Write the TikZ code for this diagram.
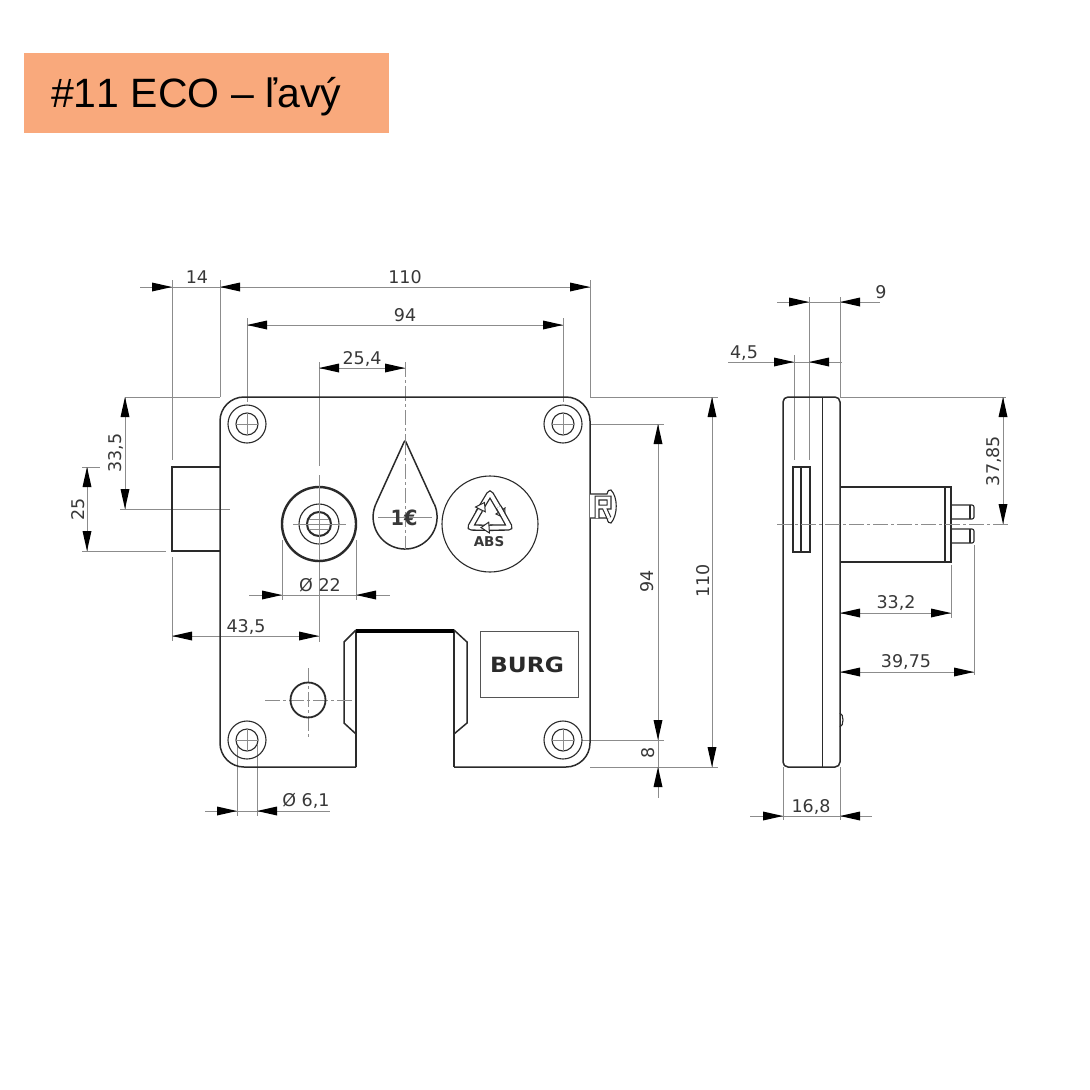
\documentclass[tikz,border=0pt]{standalone}
\usepackage{fontspec}
\setmainfont{DejaVu Sans}
\newfontfamily\bannerfont[Kerning=Off]{Liberation Sans}
\definecolor{banner}{HTML}{F9A97C}
\definecolor{ink}{HTML}{2A2A2A}
\definecolor{dimc}{HTML}{8C8C8C}
\definecolor{txt}{HTML}{383838}
\newcommand{\arrR}[2]{\fill[black] (#1,#2) -- ++(-20,-4.5) -- ++(0,9) -- cycle;}
\newcommand{\arrL}[2]{\fill[black] (#1,#2) -- ++(20,-4.5) -- ++(0,9) -- cycle;}
\newcommand{\arrU}[2]{\fill[black] (#1,#2) -- ++(-4.5,20) -- ++(9,0) -- cycle;}
\newcommand{\arrD}[2]{\fill[black] (#1,#2) -- ++(-4.5,-20) -- ++(9,0) -- cycle;}
\tikzset{
  part/.style={draw=ink,line width=1.5pt},
  thin part/.style={draw=ink,line width=1.1pt},
  dimline/.style={draw=dimc,line width=1pt},
  axisline/.style={draw=dimc,line width=1pt,dash pattern=on 15pt off 3pt on 3pt off 3pt},
  dimtext/.style={text=txt,font=\fontsize{17.5}{17.5}\selectfont,inner sep=0pt},
  dimtextv/.style={dimtext,rotate=90}
}
\begin{document}
\begin{tikzpicture}[x=1pt,y=-1pt]
\useasboundingbox (0,0) rectangle (1090,1090);
\fill[white] (0,0) rectangle (1090,1090);
% banner
\fill[banner] (24,53) rectangle (389,133);
\node[anchor=west,inner sep=0pt,text=black,font=\bannerfont\fontsize{41}{41}\selectfont] (title) at (51,97) {\#11 ECO – ľavý};

% extension and dimension lines, front view
\draw[dimline] (172,280) -- (172,460);
\draw[dimline] (220,280) -- (220,397);
\draw[dimline] (590,280) -- (590,397);
\draw[dimline] (247,318) -- (247,402);
\draw[dimline] (563,318) -- (563,402);
\draw[dimline] (140,287) -- (590,287);
\draw[dimline] (247,325) -- (563,325);
\draw[dimline] (319,368) -- (405,368);
\draw[dimline] (319,362) -- (319,466);
\draw[axisline] (405,362) -- (405,440);
\draw[dimline] (125,397) -- (220,397);
\draw[dimline] (120,509) -- (230,509);
\draw[dimline] (125,397) -- (125,509);
\draw[dimline] (82,467) -- (100,467);
\draw[dimline] (82,551) -- (166,551);
\draw[dimline] (87,467) -- (87,551);
\draw[dimline] (249,595) -- (390,595);
\draw[dimline] (282,540) -- (282,600);
\draw[dimline] (356,540) -- (356,600);
\draw[dimline] (319,562) -- (319,642);
\draw[dimline] (172,557) -- (172,641);
\draw[dimline] (172,636) -- (319,636);
\draw[dimline] (205,811) -- (330,811);
\draw[dimline] (237,745) -- (237,816);
\draw[dimline] (257,745) -- (257,816);
\draw[dimline] (590,397) -- (718,397);
\draw[dimline] (590,424) -- (664,424);
\draw[dimline] (590,767) -- (718,767);
\draw[dimline] (582,740) -- (664,740);
\draw[dimline] (712,397) -- (712,767);
\draw[dimline] (658,424) -- (658,798);

% bolt and plate
\draw[part] (220,467) -- (172,467) -- (172,551) -- (220,551);
\draw[part,rounded corners=24pt] (356,767) -- (220,767) -- (220,397) -- (590,397) -- (590,767) -- (454,767);
\draw[part] (356,767) -- (356,630);
\draw[part] (454,767) -- (454,630);
\draw[draw=black,line width=3.2pt] (356,631) -- (454,631);
\draw[part] (356,630) -- (344,642) -- (344,723) -- (356,734);
\draw[part] (454,630) -- (467,642) -- (467,723) -- (454,734);

% fixing holes
\foreach \hx/\hy in {247/424,563/424,247/740,563/740}{
  \draw[thin part] (\hx,\hy) circle[radius=19pt];
  \draw[thin part] (\hx,\hy) circle[radius=11pt];
  \draw[dimline] (\hx-11,\hy) -- (\hx+11,\hy);
  \draw[dimline] (\hx,\hy-11) -- (\hx,\hy+11);
}

% lock cylinder
\draw[draw=ink,line width=2.4pt] (319,524) circle[radius=37pt];
\draw[thin part] (319,524) circle[radius=20pt];
\draw[draw=ink,line width=2pt] (319,524) circle[radius=12pt];
\draw[dimline] (309,519) -- (329,519);
\draw[dimline] (308,524) -- (330,524);
\draw[dimline] (309,529) -- (329,529);
\draw[dimline] (293,524) -- (346,524);
\draw[dimline] (319,475) -- (319,560);

% small hole
\draw[axisline] (265,700) -- (352,700);
\draw[axisline] (308,668) -- (308,737);
\draw[draw=ink,line width=1.8pt] (308,700) circle[radius=17.5pt];

% drop
\draw[part,rounded corners=2pt] (434,503.7) -- (405,440) -- (376,503.7);
\draw[part] (376,503.7) arc[start angle=155.4,end angle=384.6,radius=32pt];
\draw[dimline] (378,517) -- (432,517);
\draw[axisline] (405,440) -- (405,549);
\node[inner sep=0pt,text=txt,xscale=0.92,font=\bfseries\fontsize{21}{21}\selectfont] (euro) at (404,518) {1€};

% ABS circle
\draw[thin part] (490,524) circle[radius=48pt];
\foreach \a in {0,120,240}{
  \begin{scope}[rotate around={\a:(490,516)}]
    \draw[draw=ink,line width=6.4pt,rounded corners=2pt] (478,513) -- (490,493) -- (500,510);
    \draw[draw=white,line width=3.8pt,rounded corners=2pt] (478,513) -- (490,493) -- (500,510);
    \draw[draw=ink,line width=1pt,fill=white] (496,514) -- (505,508) -- (504.5,518) -- cycle;
  \end{scope}
}
\node[inner sep=0pt,text=txt,font=\bfseries\fontsize{13.5}{13.5}\selectfont] (abs) at (489,541.5) {ABS};

% BURG box
\draw[draw=ink!80,line width=0.9pt] (480,631) rectangle (578,697);
\node[inner sep=0pt,text=ink,xscale=1.11,font=\bfseries\fontsize{21}{21}\selectfont] (burg) at (527,665) {BURG};

% latch with R
\draw[thin part,fill=white] (590,494) -- (607,494) .. controls (608,490) and (609,490) .. (611,490) .. controls (618,497) and (618,515) .. (611,523) .. controls (609,523) and (608,523) .. (607,518) -- (590,518);
\draw[draw=ink,line width=5pt] (597,518) -- (597,498) -- (609,498) -- (609,507) -- (597,507) (604,507) -- (609,518);
\draw[draw=white,line width=2.8pt] (597,518) -- (597,498) -- (609,498) -- (609,507) -- (597,507) (604,507) -- (609,518);

% side view
\draw[dimline] (809,297) -- (809,460);
\draw[dimline] (840,297) -- (840,397);
\draw[dimline] (794,355) -- (794,460);
\draw[dimline] (777,302) -- (880,302);
\draw[dimline] (728,362) -- (842,362);
\draw[dimline] (840,397) -- (1006,397);
\draw[dimline] (1003,397) -- (1003,524);
\draw[dimline] (840,613) -- (951,613);
\draw[dimline] (951,565) -- (951,618);
\draw[dimline] (840,672) -- (974,672);
\draw[dimline] (974,545) -- (974,675);
\draw[dimline] (750,816) -- (872,816);
\draw[dimline] (783,767) -- (783,820);
\draw[dimline] (840,767) -- (840,820);

\draw[part,rounded corners=5pt] (783,767) rectangle (840,397);
\draw[draw=ink,line width=1pt] (822,397) -- (822,767);
\draw[draw=ink,line width=1.8pt] (793,467) rectangle (810,552);
\draw[thin part] (801,467) -- (801,552);
\draw[part] (840,487) -- (951,487) -- (951,562) -- (840,562);
\draw[thin part] (945,487) -- (945,562);
\draw[thin part,rounded corners=2pt] (951,505) -- (974,505) -- (974,519) -- (951,519);
\draw[thin part,rounded corners=2pt] (951,529) -- (974,529) -- (974,543) -- (951,543);
\draw[thin part] (970,505) -- (970,519);
\draw[thin part] (970,529) -- (970,543);
\draw[thin part] (840,713) .. controls (844,714) and (844,726) .. (840,727);
\draw[axisline] (777,524) -- (1010,524);

% arrowheads
\arrR{172}{287}\arrL{220}{287}\arrR{590}{287}
\arrL{247}{325}\arrR{563}{325}
\arrL{319}{368}\arrR{405}{368}
\arrU{125}{397}\arrD{125}{509}
\arrU{87}{467}\arrD{87}{551}
\arrR{282}{595}\arrL{356}{595}
\arrL{172}{636}\arrR{319}{636}
\arrR{237}{811}\arrL{257}{811}
\arrU{712}{397}\arrD{712}{767}
\arrU{658}{424}\arrD{658}{740}\arrU{658}{767}
\arrR{809}{302}\arrL{840}{302}
\arrR{794}{362}\arrL{809}{362}
\arrU{1003}{397}\arrD{1003}{524}
\arrL{840}{613}\arrR{951}{613}
\arrL{840}{672}\arrR{974}{672}
\arrR{783}{816}\arrL{840}{816}

% labels
\node[dimtext] (d14) at (197,277) {14};
\node[dimtext] (d110a) at (405,277) {110};
\node[dimtext] (d94a) at (405,315) {94};
\node[dimtext] (d254) at (362,359) {25,4};
\node[dimtextv] (d335) at (116,453) {33,5};
\node[dimtextv] (d25) at (78,509) {25};
\node[dimtext] (d22) at (320,585) {Ø 22};
\node[dimtext] (d435) at (246,627) {43,5};
\node[dimtext] (d61) at (306,801) {Ø 6,1};
\node[dimtextv] (d94b) at (647,581) {94};
\node[dimtextv] (d110b) at (703,581) {110};
\node[dimtextv] (d8) at (648,753) {8};
\node[dimtext] (d9) at (881,292) {9};
\node[dimtext] (d45) at (744,353) {4,5};
\node[dimtextv] (d3785) at (994,461) {37,85};
\node[dimtext] (d332) at (896,603) {33,2};
\node[dimtext] (d3975) at (906,662) {39,75};
\node[dimtext] (d168) at (811,807) {16,8};
\end{tikzpicture}
\end{document}
